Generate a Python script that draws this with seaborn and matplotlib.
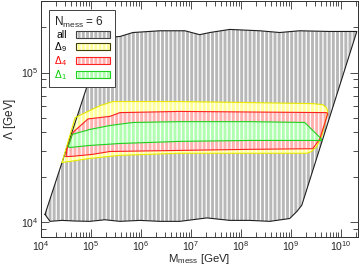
import matplotlib
matplotlib.use("Agg")
import matplotlib.pyplot as plt
import seaborn as sns
from matplotlib.patches import Patch
from matplotlib.legend_handler import HandlerTuple
from matplotlib.ticker import NullFormatter, LogLocator

# %%
# region outlines, M_mess [GeV] vs Lambda [GeV]
all_x = [1.2e4, 1.51e4, 2.63e4, 4.8e4, 9.5e4, 1.9e5, 3.8e5, 9.5e5, 2.4e6, 6e6, 2.1e7, 6e7,
         1.5e8, 3.8e8, 9.5e8, 1.32e9, 1.66e9, 2.1e10, 6e9, 1.5e9, 6e8, 2.4e8, 6e7, 2.4e7,
         1.5e7, 7.6e6, 2.4e6, 6.9e5, 3.8e5, 1.74e5]
all_y = [1.13e4, 1.015e4, 1.03e4, 1.02e4, 1.015e4, 1.04e4, 1.015e4, 1.03e4, 1.015e4, 1.015e4,
         1.07e4, 1.03e4, 1.03e4, 1.015e4, 1.06e4, 1.18e4, 1.3e4, 1.88e5, 1.88e5, 1.9e5,
         1.85e5, 1.9e5, 1.94e5, 1.85e5, 1.79e5, 1.9e5, 1.9e5, 1.85e5, 1.74e5, 1.71e5]

d9_x = [2.63e4, 4.8e4, 1.5e5, 2.75e5, 6e6, 1.5e8, 2.75e9, 4.4e9, 5.2e9, 5.5e9, 4.2e9, 3.3e9,
        2.6e9, 2.1e9, 1.5e8, 6e6, 3.8e5, 9.5e4, 3.8e4]
d9_y = [2.51e4, 5.0e4, 6.0e4, 6.4e4, 6.4e4, 6.3e4, 6.2e4, 6.1e4, 5.8e4, 5.5e4, 3.8e4, 3.2e4,
        2.97e4, 2.89e4, 2.89e4, 2.89e4, 2.8e4, 2.67e4, 2.55e4]

d4_x = [3.16e4, 3.3e4, 4.4e4, 8.7e4, 2.4e5, 3.8e5, 6e6, 5.2e9, 5.5e9, 3.8e9, 2.75e9, 1.5e8,
        6e6, 2.4e5, 1.05e5, 3.8e4]
d4_y = [2.75e4, 3.07e4, 4.0e4, 4.9e4, 5.1e4, 5.4e4, 5.5e4, 5.4e4, 5.3e4, 3.6e4, 3.1e4, 3.07e4,
        3.02e4, 2.97e4, 2.84e4, 2.75e4]

d1_x = [3.5e4, 4.2e4, 9.5e4, 2.4e5, 6.9e5, 6e6, 1.5e8, 1.9e9, 3.8e9, 4.2e9, 3.3e9, 1.5e8,
        6e6, 3.8e5, 9.5e4, 3.8e4]
d1_y = [3.2e4, 3.86e4, 4.17e4, 4.43e4, 4.64e4, 4.7e4, 4.7e4, 4.64e4, 3.69e4, 3.52e4, 3.52e4,
        3.52e4, 3.47e4, 3.36e4, 3.26e4, 3.16e4]

xticks = [1e4, 1e5, 1e6, 1e7, 1e8, 1e9, 1e10]
yticks = [1e4, 1e5]

labels = ["all", r"$\Delta_9$", r"$\Delta_4$", r"$\Delta_1$"]
faces = ["#b8b8b8", "#ffff99", "#ffb0b0", "#b0ffb0"]
edges = ["#202020", "#e8e800", "#ff2020", "#20d020"]
legend_edges = ["#404040", "#404000", "#ff2020", "#20d020"]
text_colors = ["black", "black", "#ff0000", "#00cc00"]

# %%
sns.set_style("ticks")
plt.rcParams["font.family"] = ["Liberation Sans", "DejaVu Sans"]
plt.rcParams["mathtext.fontset"] = "custom"
plt.rcParams["mathtext.rm"] = "Liberation Sans"
plt.rcParams["mathtext.it"] = "Liberation Sans"
plt.rcParams["hatch.linewidth"] = 0.9

fig, ax = plt.subplots(figsize=(3.6, 2.67), dpi=100)
fig.subplots_adjust(left=0.114, right=0.994, top=0.996, bottom=0.113)
ax.set_xscale("log")
ax.set_yscale("log")

regions = [(all_x, all_y), (d9_x, d9_y), (d4_x, d4_y), (d1_x, d1_y)]
for (xs, ys), fc, ec in zip(regions, faces, edges):
    ax.fill(xs, ys, facecolor=fc, edgecolor="white", linewidth=0, hatch="||||")
    sns.lineplot(x=xs + xs[:1], y=ys + ys[:1], sort=False, estimator=None,
                 color=ec, lw=0.8, ax=ax)

ax.set_xticks(xticks)
ax.set_yticks(yticks)
ax.xaxis.set_minor_locator(LogLocator(subs=range(2, 10), numticks=20))
ax.yaxis.set_minor_locator(LogLocator(subs=range(2, 10), numticks=20))
ax.set_xlim(1e4, 2.2e10)
ax.set_ylim(8e3, 3e5)
ax.xaxis.set_minor_formatter(NullFormatter())
ax.yaxis.set_minor_formatter(NullFormatter())
ax.tick_params(which="both", direction="in", top=True, right=True, labelsize=7.5,
               width=0.6, color="#303030", pad=2)
ax.tick_params(which="major", length=6)
ax.tick_params(which="minor", length=3.5)
for s in ax.spines.values():
    s.set_linewidth(0.7)
    s.set_color("#303030")

ax.set_xlabel(r"M$_{\rm mess}$ [GeV]", fontsize=8.2, labelpad=-0.8)
ax.set_ylabel(r"$\Lambda$ [GeV]", fontsize=8.5, labelpad=2)

# legend: hatched face plus coloured outline
handles = []
for fc, ec in zip(faces, legend_edges):
    h1 = Patch(facecolor=fc, edgecolor="white", linewidth=0, hatch="||||")
    h2 = Patch(facecolor="none", edgecolor=ec, linewidth=0.8)
    handles.append((h1, h2))
leg = ax.legend(handles, labels, loc="upper left", bbox_to_anchor=(0.025, 0.962),
                borderaxespad=0, markerfirst=False, fontsize=7.5,
                title=r"N$_{\rm mess}$ = 6", title_fontsize=8.5, alignment="left",
                handler_map={tuple: HandlerTuple(ndivide=1)},
                handlelength=3.3, handleheight=0.7, handletextpad=0.9,
                labelspacing=0.02, borderpad=0.45, fancybox=False, framealpha=1,
                edgecolor="#404040")
leg.get_frame().set_linewidth(0.7)
for t, c in zip(leg.get_texts(), text_colors):
    t.set_color(c)

fig.savefig("out.png", dpi=100)
